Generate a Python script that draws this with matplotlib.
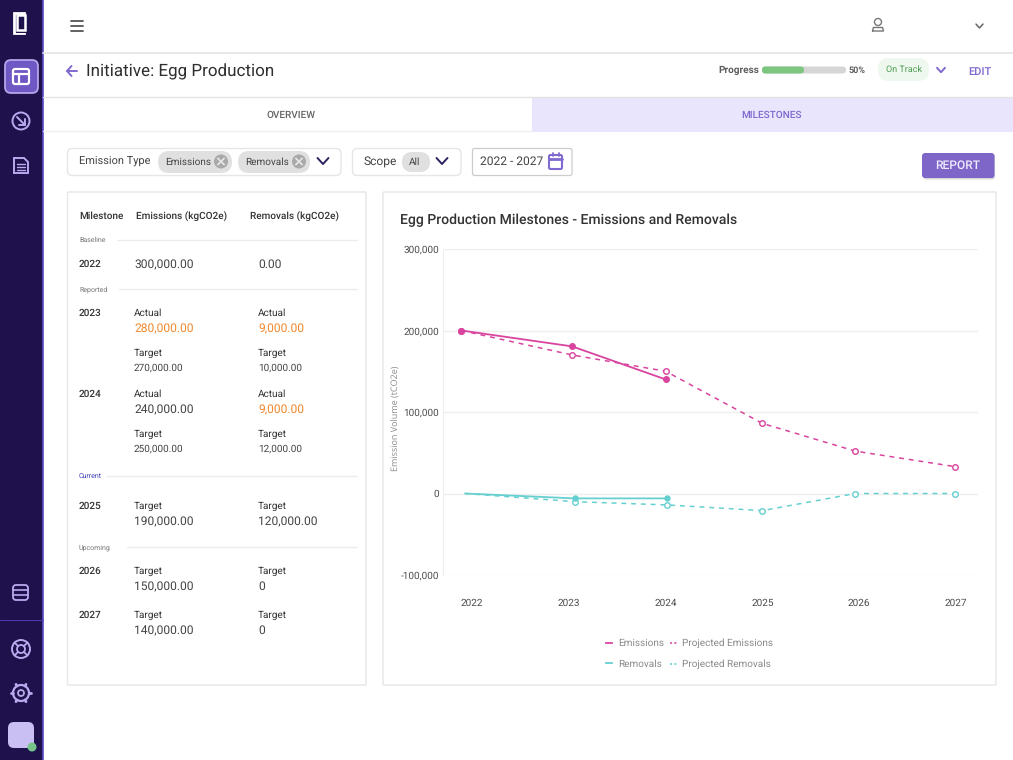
import numpy as np
import matplotlib
matplotlib.use("Agg")
import matplotlib.pyplot as plt
from matplotlib.patches import FancyBboxPatch, Rectangle, Circle, Polygon

plt.rcParams['font.family'] = ['Roboto', 'DejaVu Sans']
plt.rcParams['text.hinting'] = 'no_hinting'
plt.rcParams['text.hinting_factor'] = 1

# ---- chart data ----
years = [2022, 2023, 2024, 2025, 2026, 2027]
emis_x = [2021.89, 2023.035, 2024.0]
emissions = [200000, 180500, 140000]
proj_emis_x = [2021.89, 2023.035, 2024.0, 2025.0, 2025.96, 2026.99]
proj_emissions = [200000, 170000, 150000, 86000, 52000, 33000]
rem_x = [2021.93, 2023.06, 2024.01]
removals = [0, -6000, -6000]
proj_rem_x = [2021.93, 2023.06, 2024.01, 2025.0, 2025.96, 2026.99]
proj_removals = [0, -10000, -14000, -21000, 0, 0]
y_ticks = [-100000, 0, 100000, 200000, 300000]

# ---- table data ----
header = ["Milestone", "Emissions (kgCO2e)", "Removals (kgCO2e)"]
sections = ["Baseline", "Reported", "Current", "Upcoming"]
rows_years = ["2022", "2023", "2024", "2025", "2026", "2027"]
e_actual = ["300,000.00", "280,000.00", "240,000.00"]
r_actual = ["0.00", "9,000.00", "9,000.00"]
e_target = ["270,000.00", "250,000.00", "190,000.00", "150,000.00", "140,000.00"]
r_target = ["10,000.00", "12,000.00", "120,000.00", "0", "0"]

PINK, TEAL = '#d9449f', '#66d0d0'
PURPLE, NAVY = '#8069cf', '#2c2360'
DARK, MID, LIGHT = '#333333', '#5f5f5f', '#e9e9e9'

fig = plt.figure(figsize=(10.13, 7.6), dpi=100, facecolor='white')
ui = fig.add_axes([0, 0, 1, 1])
ui.set_xlim(0, 1013); ui.set_ylim(760, 0); ui.axis('off')


def T(x, y, s, size=8, c=DARK, ha='left', w='normal'):
    ui.text(x, y + 1.3, s, fontsize=size, color=c, ha=ha, va='center', fontweight=w)


def box(x0, y0, x1, y1, r=4, fc='white', ec='none', lw=1, z=2):
    ui.add_patch(FancyBboxPatch((x0 + r, y0 + r), x1 - x0 - 2 * r, y1 - y0 - 2 * r,
                                boxstyle=f"round,pad={r},rounding_size={r}",
                                fc=fc, ec=ec, lw=lw, zorder=z))


def L(xs, ys, c=DARK, lw=1, z=3):
    ui.plot(xs, ys, color=c, lw=lw, zorder=z, solid_capstyle='round')


def chev(x, y, c=NAVY, s=6, lw=1.4):
    L([x - s, x, x + s], [y - s * .55, y + s * .55, y - s * .55], c, lw)


def circ(x, y, r, fc='none', ec='none', lw=1.2, z=3):
    ui.add_patch(Circle((x, y), r, fc=fc, ec=ec, lw=lw, zorder=z))


# ---- sidebar ----
SB = '#1f114c'
ICON = '#b9a9ee'
ui.add_patch(Rectangle((0, 0), 43, 760, fc=SB, ec='none', zorder=1))
L([43, 43], [0, 760], '#5a4bc8', 1.2)
L([0, 43], [620, 620], '#4a3ca8', 0.8)
ui.add_patch(Rectangle((14, 13), 10, 20, fc='none', ec='white', lw=2, zorder=3))
ui.add_patch(Rectangle((16, 15), 10, 18, fc=SB, ec='none', zorder=3))
ui.add_patch(Rectangle((17, 15), 8, 15, fc='none', ec='white', lw=1.8, zorder=4))
box(5, 60, 38, 93, r=6, fc='#6f57c4', ec='#b5a6ea', lw=1.3)
box(13, 69, 29, 84, r=2, fc='none', ec='white', lw=1.6, z=4)
L([13, 29], [74, 74], 'white', 1.6, 4); L([19, 19], [74, 84], 'white', 1.6, 4)
circ(21, 121, 8.5, ec=ICON, lw=1.4)
L([17, 25], [117, 125], ICON, 1.4); L([25, 25, 19], [119, 125, 125], ICON, 1.4)
ui.add_patch(Polygon([(14, 158), (24, 158), (28, 162), (28, 173), (14, 173)], closed=True,
                     fc='none', ec=ICON, lw=1.4, zorder=3))
for yy in (164, 167, 170):
    L([17, 25], [yy, yy], ICON, 1)
box(13, 585, 28, 600, r=3, fc='none', ec=ICON, lw=1.3)
L([13, 28], [590, 590], ICON, 1.2); L([13, 28], [595, 595], ICON, 1.2)
circ(21, 649, 9, ec=ICON, lw=1.4); circ(21, 649, 4, ec=ICON, lw=1.3)
for dx, dy in ((1, 1), (1, -1), (-1, 1), (-1, -1)):
    L([21 + 3 * dx, 21 + 6.5 * dx], [649 + 3 * dy, 649 + 6.5 * dy], ICON, 1.3)
circ(21, 693, 3, ec=ICON, lw=1.3); circ(21, 693, 8, ec=ICON, lw=1.6)
for a in np.deg2rad(np.arange(0, 360, 60)):
    L([21 + 8 * np.cos(a), 21 + 10 * np.cos(a)], [693 + 8 * np.sin(a), 693 + 10 * np.sin(a)], ICON, 2)
box(8, 722, 34, 748, r=6, fc='#c9bff2')
circ(32, 747, 4.5, fc='#77c48b', z=4)

# ---- top bar ----
for yy in (21, 26, 31):
    L([71, 83], [yy, yy], '#555555', 1.3)
L([43, 1013], [53, 53], '#e6e6e6', 1.3)
circ(878, 22, 3.5, ec='#777777', lw=1)
L([872.5, 873.5, 882.5, 883.5, 872.5], [31, 27.5, 27.5, 31, 31], '#777777', 1)
chev(979.5, 26, '#666666', 3.5, 1.1)
L([67, 77], [71, 71], PURPLE, 1.4); L([71.5, 67, 71.5], [66, 71, 76], PURPLE, 1.4)
T(86, 70.5, "Initiative: Egg Production", 12.2, '#2f2f2f')
T(718, 69.2, "Progress", 7.3, MID, w='bold')
box(762, 66.5, 846, 73.5, r=3.5, fc='#d6d6d6')
box(762, 66.5, 804, 73.5, r=3.5, fc='#7cc67f', z=3)
T(849, 69.2, "50%", 6.6, MID, w='bold')
box(878, 58, 929, 81, r=11, fc='#eef8ee')
T(903.5, 68.5, "On Track", 6.6, '#4f9d54', ha='center')
chev(941, 70, PURPLE, 4, 1.4)
T(979.5, 70.3, "EDIT", 8, PURPLE, ha='center', w='medium')

# ---- tabs ----
L([43, 1013], [97, 97], '#e4e4e4', 1)
L([43, 532], [131, 131], '#eeeeee', 1)
ui.add_patch(Rectangle((532, 98), 481, 34, fc='#e9e5fc', ec='none', zorder=1))
T(291, 114, "OVERVIEW", 7.4, '#666666', ha='center', w='medium')
T(772, 114, "MILESTONES", 7.4, PURPLE, ha='center', w='medium')

# ---- filters ----
box(67.5, 148.5, 341, 175.5, r=5, ec='#e6e6e6')
T(79, 160.8, "Emission Type", 8.2, '#444444')
for x0, x1, s in ((158, 232, "Emissions"), (238, 310, "Removals")):
    box(x0, 151, x1, 173, r=11, fc='#e0e0e0', z=3)
    T(x0 + 7, 160.5, s, 6.9, '#444444')
    cx = x1 - 11
    circ(cx, 161.5, 7, fc='#a9a9a9', z=4)
    ui.plot([cx - 3, cx + 3], [158.5, 164.5], color='#e8e8e8', lw=1.2, zorder=5)
    ui.plot([cx - 3, cx + 3], [164.5, 158.5], color='#e8e8e8', lw=1.2, zorder=5)
chev(323, 161, NAVY, 5.5, 1.4)
box(352.5, 148.5, 461, 175.5, r=5, ec='#e6e6e6')
T(364, 160.8, "Scope", 8.3, '#444444')
box(402, 152, 430, 172, r=10, fc='#e0e0e0', z=3)
T(415, 160.5, "All", 6.9, '#444444', ha='center')
chev(442, 161, NAVY, 5.5, 1.4)
box(472.5, 148.5, 572, 175.5, r=2, ec='#cccccc', lw=0.9)
T(480, 160.5, "2022 - 2027", 8.3, '#444444')
box(549, 155, 562, 169, r=1.5, fc='none', ec=PURPLE, lw=1.5, z=3)
L([549, 562], [158.5, 158.5], PURPLE, 2); L([552.5, 552.5], [153, 156], PURPLE, 1.3); L([558.5, 558.5], [153, 156], PURPLE, 1.3)
box(923, 154.5, 995, 179.5, r=3, fc='#d6d6d6')
box(922, 153, 994.5, 178, r=3, fc='#7e66c9', z=3)
T(958, 164.5, "REPORT", 8.3, '#efeafc', ha='center', w='medium')

# ---- cards ----
box(67.5, 192, 366, 685, r=1, ec='#e6e6e6', z=1.5)
box(383, 192, 996, 685, r=1, ec='#e6e6e6', z=1.5)

# ---- table ----
T(79, 215.2, header[0], 7.4, DARK, w='medium')
T(136, 215.2, header[1], 7.2, DARK, w='medium')
T(250, 215.2, header[2], 7.2, DARK, w='medium')
sec_y = [240, 289, 476, 547]
sec_x1 = [117, 119, 107, 127]
for s, yy, xx in zip(sections, sec_y, sec_x1):
    T(79, yy - 1, s, 5, '#3f3fb5' if s == "Current" else '#777777')
    L([xx, 357], [yy, yy], '#ececec', 1)
ACT = '#f0882d'
VAL = 8.3
LB = 7.5
T(79, 263.2, rows_years[0], LB, DARK, w='medium')
T(134, 263.5, e_actual[0], VAL, '#444444')
T(258, 263.5, r_actual[0], VAL, '#444444')
for yr, y0, e, r, et, rt, ec in ((rows_years[1], 312.2, e_actual[1], r_actual[1], e_target[0], r_target[0], ACT),
                                  (rows_years[2], 393, e_actual[2], r_actual[2], e_target[1], r_target[1], '#444444')):
    T(79, y0, yr, LB, DARK, w='medium')
    T(134, y0, "Actual", LB, DARK); T(258, y0, "Actual", LB, DARK)
    T(134, y0 + 15.5, e, VAL, ec); T(258, y0 + 15.5, r, VAL, ACT)
    T(134, y0 + 40, "Target", LB, DARK); T(258, y0 + 40, "Target", LB, DARK)
    T(134, y0 + 54.5, et, 7.5, '#444444'); T(258, y0 + 54.5, rt, 7.5, '#444444')
for yr, y0, et, rt in ((rows_years[3], 505.2, e_target[2], r_target[2]),
                        (rows_years[4], 570.2, e_target[3], r_target[3]),
                        (rows_years[5], 614, e_target[4], r_target[4])):
    T(79, y0, yr, LB, DARK, w='medium')
    T(134, y0, "Target", LB, DARK); T(258, y0, "Target", LB, DARK)
    T(134, y0 + 15.5, et, VAL, '#444444'); T(258, y0 + 15.5, rt, VAL, '#444444')

# ---- chart title ----
T(400, 218.7, "Egg Production Milestones - Emissions and Removals", 10.35, '#333333', w='medium')

# ---- chart ----
W, H = 1013, 760
ax = fig.add_axes([443 / W, 1 - 575 / H, (978 - 443) / W, (575 - 249) / H], facecolor='none')
ax.set_xlim(2022 - 29 / 96.8, 2022 + 506 / 96.8)
ax.set_ylim(-100000, 300000)
ax.set_yticks(y_ticks)
ax.set_yticklabels([f"{v:,}" for v in y_ticks], fontsize=7, color='#4d4d4d')
ax.set_xticks(years)
ax.set_xticklabels([str(y) for y in years], fontsize=7, color='#4d4d4d')
ax.tick_params(axis='both', length=0)
ax.tick_params(axis='y', pad=3)
ax.tick_params(axis='x', pad=17)
ax.grid(axis='y', color='#eeeeee', lw=1)
ax.set_axisbelow(True)
for k, s in ax.spines.items():
    s.set_visible(False)
ax.spines['left'].set_visible(True)
ax.spines['left'].set_color('#eeeeee')
ax.set_ylabel("Emission Volume (tCO2e)", fontsize=6.6, color='#8a8a8a', family=['Open Sans', 'DejaVu Sans'])
ax.yaxis.set_label_coords((401 - 443) / 535, (575 - 418.5) / 326)

dash = (0, (3.2, 3.2))
ax.plot(proj_emis_x, proj_emissions, color=PINK, lw=1.1, ls=dash, marker='o', ms=4,
        mfc='white', mew=1, clip_on=False, zorder=3)
ax.plot(emis_x, emissions, color=PINK, lw=1.3, marker='o', ms=4, clip_on=False, zorder=4)
ax.plot(rem_x, removals, color=TEAL, lw=1.3, zorder=4)
ax.plot(rem_x[1:], removals[1:], color=TEAL, lw=0, marker='o', ms=3.6, zorder=4)
ax.plot(proj_rem_x, proj_removals, color=TEAL, lw=1.1, ls=dash, zorder=3)
ax.plot(proj_rem_x[1:], proj_removals[1:], color=TEAL, lw=0, marker='o', ms=4, mfc='white', mew=1, zorder=3)

h1 = plt.Line2D([], [], color=PINK, lw=1.3)
h2 = plt.Line2D([], [], color=PINK, lw=1.1, ls=(0, (1.4, 1.4)))
h3 = plt.Line2D([], [], color=TEAL, lw=1.3)
h4 = plt.Line2D([], [], color=TEAL, lw=1.1, ls=(0, (1.4, 1.4)))
leg = ax.legend([h1, h3, h2, h4], ["Emissions", "Removals", "Projected Emissions", "Projected Removals"],
                ncol=2, loc='center', bbox_to_anchor=((689.5 - 443) / 535, (575 - 654) / 326),
                frameon=False, fontsize=7.4, labelcolor='#8a8a8a', handlelength=0.65,
                handletextpad=0.55, columnspacing=0.6, labelspacing=1.1, borderpad=0)

fig.savefig("out.png", dpi=100)
